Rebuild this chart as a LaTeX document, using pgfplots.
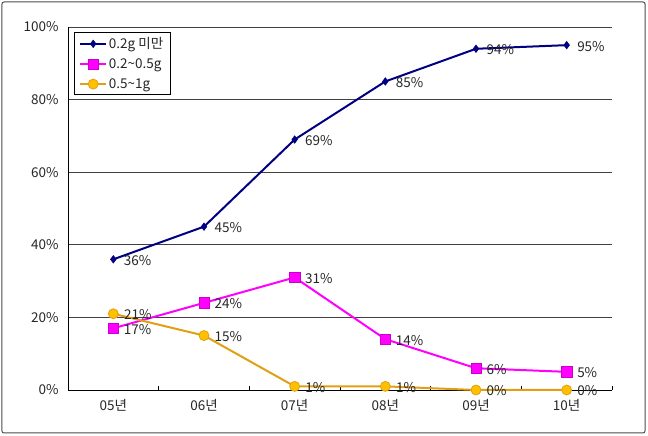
\documentclass[border=0pt]{standalone}
\usepackage{pgfplots}
\pgfplotsset{compat=1.18}
\usepackage{fontspec}
\setmainfont{Noto Sans CJK KR}
\definecolor{navyline}{RGB}{0,0,128}
\definecolor{magline}{RGB}{255,0,255}
\definecolor{orline}{RGB}{225,160,20}
\definecolor{orfill}{RGB}{255,192,0}

\begin{document}
\begin{tikzpicture}
\useasboundingbox (-68pt,-46pt) rectangle (580pt,390pt);
\begin{axis}[
  scale only axis,
  width=544pt, height=363pt,
  xmin=-0.5, xmax=5.5, ymin=0, ymax=100,
  axis x line*=bottom, axis y line*=left,
  axis line style={black, line width=0.8pt},
  xtick={0,...,5},
  xticklabels={05년,06년,07년,08년,09년,10년},
  major x tick style={draw=none},
  minor xtick={0.5,1.5,...,5.5},
  minor tick length=4pt,
  minor x tick style={black, line width=0.6pt},
  xticklabel style={yshift=-6pt},
  ytick={0,20,...,100},
  yticklabel={\pgfmathprintnumber{\tick}\%},
  yticklabel style={xshift=-6pt},
  ytick style={draw=none},
  ymajorgrids=true,
  grid style={black!75, line width=0.8pt},
  font=\fontsize{13.5}{15}\selectfont,
  tick label style={font=\fontsize{13.5}{15}\selectfont, text=black!85},
  /pgf/number format/assume math mode=true,
  clip=false,
  nodes near coords={\pgfmathprintnumber{\pgfplotspointmeta}\%},
  every node near coord/.append style={anchor=west, xshift=7pt, yshift=-1pt,
    font=\fontsize{13.5}{15}\selectfont, text=black!85},
  legend style={at={(0.011,0.986)}, anchor=north west, draw=black, line width=0.8pt,
    font=\fontsize{13.5}{15}\selectfont, row sep=4.5pt, inner xsep=5pt, inner ysep=3pt,
    text=black!85},
  legend cell align={left},
  legend image code/.code={\draw[mark repeat=2, mark phase=2] plot coordinates {(0cm,0cm) (0.45cm,0cm) (0.9cm,0cm)};},
]
\addplot[navyline, line width=2pt, mark=diamond*, mark size=3.8pt,
  mark options={fill=navyline, line width=0.5pt}] coordinates {
  (0,36) (1,45) (2,69) (3,85) (4,94) (5,95)
};
\addplot[magline, line width=2pt, mark=square*, mark size=5.2pt,
  mark options={fill=magline, draw=magline!80!black, line width=0.5pt}] coordinates {
  (0,17) (1,24) (2,31) (3,14) (4,6) (5,5)
};
\addplot[orline, line width=2pt, mark=*, mark size=5pt,
  mark options={fill=orfill, draw=orline, line width=0.8pt}] coordinates {
  (0,21) (1,15) (2,1) (3,1) (4,0) (5,0)
};
\legend{0.2g 미만, 0.2\textasciitilde0.5g, 0.5\textasciitilde1g}
\end{axis}
\draw[black!70, line width=1pt, rounded corners=2pt] (-66pt,-43pt) rectangle (577pt,388pt);
\end{tikzpicture}
\end{document}
